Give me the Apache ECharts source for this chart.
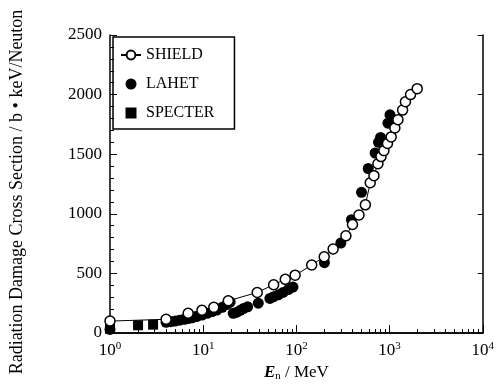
<!DOCTYPE html>
<html>
<head>
<meta charset="utf-8">
<script src="https://cdn.jsdelivr.net/npm/echarts@6/dist/echarts.min.js"></script>
<style>
  html, body { margin: 0; padding: 0; background: #fff; }
  #chart { width: 497px; height: 388px; }
</style>
</head>
<body>
<div id="chart"></div>
<script>
// energies in MeV, cross sections in b*keV/neutron
var shieldE = [1, 4, 6.9, 9.7, 13, 18.6, 38, 57, 76, 97, 146, 199, 248, 340, 400, 470, 550, 620, 680, 750, 810, 870, 950, 1040, 1140, 1230, 1380, 1480, 1680, 1980];
var shieldV = [100, 115, 165, 190, 215, 270, 340, 405, 450, 485, 570, 640, 705, 815, 910, 990, 1075, 1260, 1320, 1420, 1480, 1530, 1590, 1645, 1720, 1790, 1870, 1940, 2000, 2050];

var lahetE = [1, 4, 4.5, 5, 5.6, 6.3, 7, 7.6, 8.5, 9.7, 11, 12.5, 14, 16, 18, 19.5, 21, 23, 25, 27, 30, 39, 52, 57, 64, 72, 82, 92, 200, 300, 390, 500, 590, 700, 760, 800, 960, 1010];
var lahetV = [30, 90, 95, 100, 108, 115, 122, 128, 138, 150, 165, 180, 193, 215, 240, 260, 165, 175, 190, 205, 220, 250, 290, 305, 320, 340, 365, 385, 590, 755, 950, 1180, 1380, 1510, 1600, 1640, 1760, 1830];

var specterE = [1, 2, 2.9];
var specterV = [35, 65, 70];

var yTicks = [0, 500, 1000, 1500, 2000, 2500];

function pairs(xs, ys) {
  return xs.map(function (x, i) { return [x, ys[i]]; });
}

var serif = 'Liberation Serif';
var chart = echarts.init(document.getElementById('chart'));

var tickX = { show: true, inside: true, length: 8, lineStyle: { color: '#000', width: 1 } };
var minorX = { show: true, splitNumber: 9, length: 4, lineStyle: { color: '#000', width: 1 } };
var tickY = { show: true, inside: true, length: 7, lineStyle: { color: '#000', width: 1 } };
var minorY = { show: true, splitNumber: 5, length: 4, lineStyle: { color: '#000', width: 1 } };

var option = {
  backgroundColor: '#fff',
  animation: false,
  grid: { left: 106, right: 10, top: 35, bottom: 55 },
  legend: {
    orient: 'vertical',
    left: 113,
    top: 37,
    padding: [10, 20, 8, 7],
    itemGap: 13,
    itemWidth: 20,
    itemHeight: 11,
    symbolKeepAspect: true,
    borderColor: '#000',
    borderWidth: 1.5,
    textStyle: { fontFamily: serif, fontSize: 16, color: '#000' },
    data: [
      { name: 'SHIELD' },
      { name: 'LAHET', icon: 'circle' },
      { name: 'SPECTER', icon: 'path://M0,0H10V10H0Z' }
    ]
  },
  xAxis: [{
    type: 'log',
    logBase: 10,
    min: 1,
    max: 10000,
    name: '{it|E}{sub|n} / MeV',
    nameLocation: 'middle',
    nameGap: 30,
    nameTextStyle: {
      fontFamily: serif, fontSize: 17, color: '#000',
      rich: {
        it: { fontFamily: serif, fontSize: 17, fontStyle: 'italic', fontWeight: 'bold', color: '#000' },
        sub: { fontFamily: serif, fontSize: 11, color: '#000', verticalAlign: 'bottom', padding: [6, 0, 0, 0] }
      }
    },
    axisLine: { lineStyle: { color: '#000', width: 1.5 } },
    axisTick: tickX,
    minorTick: minorX,
    splitLine: { show: false },
    axisLabel: {
      margin: 8,
      color: '#000',
      fontFamily: serif,
      fontSize: 17,
      formatter: function (v) {
        return '10{sup|' + Math.round(Math.log10(v)) + '}';
      },
      rich: {
        sup: { fontFamily: serif, fontSize: 11, color: '#000', verticalAlign: 'top', padding: [0, 0, 9, 0] }
      }
    }
  }, {
    type: 'log',
    logBase: 10,
    min: 1,
    max: 10000,
    position: 'top',
    axisLine: { lineStyle: { color: '#000', width: 1.5 } },
    axisTick: { show: false },
    axisLabel: { show: false },
    splitLine: { show: false }
  }],
  yAxis: [{
    type: 'value',
    min: yTicks[0],
    max: yTicks[yTicks.length - 1],
    interval: 500,
    name: 'Radiation Damage Cross Section / b • keV/Neuton',
    nameLocation: 'middle',
    nameGap: 84,
    nameTextStyle: { fontFamily: serif, fontSize: 18, color: '#000', padding: [0, 16, 0, 0] },
    axisLine: { show: true, lineStyle: { color: '#000', width: 1.5 } },
    axisTick: tickY,
    minorTick: minorY,
    splitLine: { show: false },
    axisLabel: {
      color: '#000', fontFamily: serif, fontSize: 17, margin: 8,
      formatter: function (v) { return String(v); }
    }
  }, {
    type: 'value',
    min: yTicks[0],
    max: yTicks[yTicks.length - 1],
    interval: 500,
    position: 'right',
    axisLine: { show: true, lineStyle: { color: '#000', width: 1.5 } },
    axisTick: { show: true, inside: true, length: 5, lineStyle: { color: '#000' } },
    axisLabel: { show: false },
    splitLine: { show: false }
  }],
  series: [{
    name: 'SHIELD',
    type: 'line',
    data: pairs(shieldE, shieldV),
    symbol: 'circle',
    symbolSize: 10,
    itemStyle: { color: '#fff', borderColor: '#000', borderWidth: 1.5, opacity: 1 },
    lineStyle: { color: '#000', width: 1 },
    z: 3
  }, {
    name: 'LAHET',
    type: 'scatter',
    data: pairs(lahetE, lahetV),
    symbol: 'circle',
    symbolSize: 11,
    itemStyle: { color: '#000', opacity: 1 },
    z: 2
  }, {
    name: 'SPECTER',
    type: 'scatter',
    data: pairs(specterE, specterV),
    symbol: 'rect',
    symbolSize: 10,
    itemStyle: { color: '#000', opacity: 1 },
    z: 2
  }]
};

chart.setOption(option);
</script>
</body>
</html>
